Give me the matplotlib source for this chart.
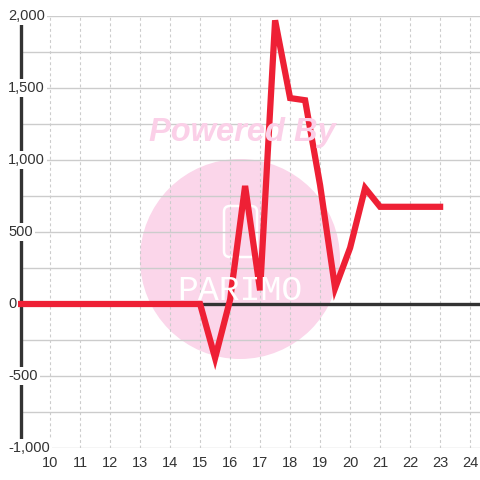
import matplotlib
matplotlib.use('Agg')
import matplotlib.pyplot as plt
import matplotlib.transforms as mtransforms
from matplotlib.patches import Circle, FancyBboxPatch

plt.rcParams['font.family'] = ['Liberation Sans', 'DejaVu Sans']

# data
x_vals = [9.0, 9.5, 10.0, 10.5, 11.0, 11.5, 12.0, 12.5, 13.0, 13.5, 14.0, 14.5,
          15.0, 15.5, 16.0, 16.5, 17.0, 17.5, 18.0, 18.5, 19.0, 19.5, 20.0,
          20.5, 21.0, 21.5, 22.0, 22.5, 23.0]
y_vals = [0, 0, 0, 0, 0, 0, 0, 0, 0, 0, 0, 0,
          0, -375, 30, 820, 95, 1970, 1430, 1415, 825, 110, 390,
          805, 675, 675, 675, 675, 675]
x_ticks = list(range(10, 25))
y_ticks = [-1000, -500, 0, 500, 1000, 1500, 2000]
y_labels = ["-1,000", "-500", "0", "500", "1,000", "1,500", "2,000"]

LINE_RED = "#ee2035"
TEXT = "#333333"
GRID = "#cccccc"

fig = plt.figure(figsize=(4.8, 4.8), dpi=100)
fig.patch.set_facecolor("white")
ax = fig.add_axes([21 / 480, 32 / 480, 459 / 480, 432 / 480])
ax.set_facecolor("white")

ax.set_xlim(9.03, 24.33)
ax.set_ylim(-1000, 2000)

# watermark
ax.add_patch(Circle((0.5, 1 - 259 / 480), 100 / 480, transform=fig.transFigure,
                    facecolor="#fbd6ea", edgecolor="none", zorder=0.1))
ax.add_patch(FancyBboxPatch((224 / 480, 1 - 257 / 480), 33 / 480, 51 / 480,
                            boxstyle="round,pad=0,rounding_size=0.012",
                            transform=fig.transFigure, facecolor="none",
                            edgecolor="white", linewidth=1.8, zorder=0.2))
fig.text(240 / 480, 1 - 291 / 480, "PARIMO", family="Liberation Mono",
         fontsize=25, color="white", ha="center", va="center", zorder=0.2)
fig.text(242 / 480, 1 - 133 / 480, "Powered By", fontsize=23.5, fontweight="bold",
         fontstyle="italic", color="#fbd0e8", ha="center", va="center", zorder=0.2)

# grid
ax.set_axisbelow(True)
ax.set_xticks(x_ticks)
ax.set_yticks(range(-1000, 2001, 250))
ax.yaxis.grid(True, color=GRID, linewidth=1.0, linestyle="-")
ax.xaxis.grid(True, color=GRID, linewidth=0.8, linestyle=(0, (2.6, 2.4)))
ax.tick_params(axis="both", length=0)
ax.tick_params(axis="x", labelsize=10.5, labelcolor=TEXT, pad=6)
ax.set_yticklabels([])

for s in ["top", "right", "bottom"]:
    ax.spines[s].set_visible(False)
ax.spines["left"].set_color(TEXT)
ax.spines["left"].set_linewidth(2.4)

# y labels drawn over the spine with white boxes
trans = mtransforms.blended_transform_factory(ax.transAxes, ax.transData)
for v, lab in zip(y_ticks, y_labels):
    ax.text(-13 / 459, v, lab, transform=trans, ha="left", va="center",
            fontsize=10.5, color=TEXT, clip_on=False, zorder=4,
            bbox=dict(facecolor="white", edgecolor="none", pad=1.5))

ax.axhline(0, color=TEXT, linewidth=2.4, zorder=2)
ax.plot(x_vals, y_vals, color=LINE_RED, linewidth=4.5, solid_joinstyle="miter",
        zorder=3, clip_on=False)

fig.savefig("out.png", dpi=100, facecolor="white")
